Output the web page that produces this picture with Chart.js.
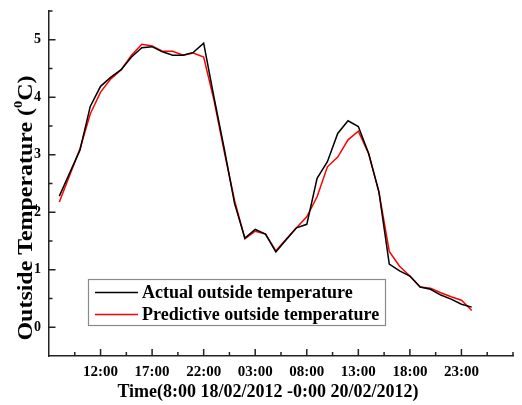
<!DOCTYPE html>
<html><head><meta charset="utf-8">
<script src="https://cdn.jsdelivr.net/npm/chart.js@4/dist/chart.umd.min.js"></script>
<style>html,body{margin:0;padding:0;background:#fff;overflow:hidden;}#wrap{width:522px;height:405px;}</style>
</head><body><div id="wrap"><canvas id="c" width="522" height="405"></canvas></div>
<script>
// hours elapsed since 8:00 18/02/2012
const hours = [0,1,2,3,4,5,6,7,8,9,10,11,12,13,14,15,16,17,18,19,20,21,22,23,24,25,26,27,28,29,30,31,32,33,34,35,36,37,38,39,40];
const actualTemp = [2.28,2.68,3.08,3.84,4.19,4.35,4.48,4.70,4.86,4.88,4.79,4.73,4.73,4.78,4.94,4.00,3.10,2.15,1.55,1.70,1.62,1.31,1.52,1.73,1.79,2.59,2.88,3.37,3.59,3.49,3.02,2.35,1.10,0.98,0.89,0.70,0.66,0.56,0.49,0.40,0.35];
const predictedTemp = [2.18,2.64,3.10,3.71,4.09,4.32,4.48,4.73,4.92,4.89,4.80,4.80,4.73,4.77,4.70,3.95,3.05,2.20,1.54,1.67,1.62,1.33,1.53,1.73,1.92,2.27,2.79,2.96,3.26,3.41,3.02,2.35,1.32,1.06,0.89,0.70,0.68,0.60,0.53,0.47,0.29];
const seriesNames = ['Actual outside temperature','Predictive outside temperature'];
const seriesColors = ['#000000','#ff0000'];
const xMajorTicks = [4,9,14,19,24,29,34,39];
const xTickLabels = ['12:00','17:00','22:00','03:00','08:00','13:00','18:00','23:00'];
const xMinorTicks = [1.5,6.5,11.5,16.5,21.5,26.5,31.5,36.5,41.5,44];
const yMajorTicks = [0,1,2,3,4,5];
const yMinorTicks = [0.5,1.5,2.5,3.5,4.5,5.5];
const xTitle = 'Time(8:00 18/02/2012 -0:00 20/02/2012)';
const yTitleParts = ['Outside Temperature (', '0', 'C)'];

const FONT = '"Liberation Serif", "Times New Roman", serif';

const decorPlugin = {
  id: 'decor',
  afterDraw(chart) {
    const ctx = chart.ctx;
    const xs = chart.scales.x, ys = chart.scales.y;
    const left = chart.chartArea.left, bottom = chart.chartArea.bottom;
    ctx.save();
    ctx.strokeStyle = '#222';
    ctx.lineWidth = 1.5;
    ctx.beginPath();
    xMajorTicks.forEach(v => { const p = xs.getPixelForValue(v); ctx.moveTo(p, bottom); ctx.lineTo(p, bottom - 7); });
    xMinorTicks.forEach(v => { const p = xs.getPixelForValue(v); ctx.moveTo(p, bottom); ctx.lineTo(p, bottom - 4); });
    yMajorTicks.forEach(v => { const p = ys.getPixelForValue(v); ctx.moveTo(left, p); ctx.lineTo(left + 6.5, p); });
    yMinorTicks.forEach(v => { const p = ys.getPixelForValue(v); ctx.moveTo(left, p); ctx.lineTo(left + 3.5, p); });
    ctx.stroke();

    // x title
    ctx.fillStyle = '#000';
    ctx.font = 'bold 18px ' + FONT;
    ctx.textAlign = 'center';
    ctx.textBaseline = 'middle';
    ctx.fillText(xTitle, 268, 392);

    // y title (rotated, with superscript)
    ctx.save();
    ctx.translate(25, 208);
    ctx.rotate(-Math.PI / 2);
    ctx.font = 'bold 20px ' + FONT;
    const w1 = ctx.measureText(yTitleParts[0]).width;
    const w3 = ctx.measureText(yTitleParts[2]).width;
    ctx.font = 'bold 12px ' + FONT;
    const w2 = ctx.measureText(yTitleParts[1]).width;
    const total = w1 + w2 + w3;
    const target = 265;
    ctx.scale(target / total, 1);
    ctx.textAlign = 'left';
    ctx.textBaseline = 'alphabetic';
    let x0 = -total / 2;
    ctx.font = 'bold 20px ' + FONT;
    ctx.fillText(yTitleParts[0], x0, 7);
    ctx.font = 'bold 12px ' + FONT;
    ctx.fillText(yTitleParts[1], x0 + w1, -3);
    ctx.font = 'bold 20px ' + FONT;
    ctx.fillText(yTitleParts[2], x0 + w1 + w2, 7);
    ctx.restore();

    // legend
    ctx.strokeStyle = '#8a8a8a';
    ctx.lineWidth = 1.2;
    ctx.strokeRect(88.5, 279.5, 297, 46);
    ctx.font = 'bold 18px ' + FONT;
    ctx.textAlign = 'left';
    ctx.textBaseline = 'middle';
    const rows = [292.5, 314.5];
    chart.data.datasets.forEach((ds, i) => {
      ctx.strokeStyle = ds.borderColor;
      ctx.lineWidth = 1.5;
      ctx.beginPath();
      ctx.moveTo(95, rows[i]);
      ctx.lineTo(138, rows[i]);
      ctx.stroke();
      ctx.fillStyle = '#000';
      ctx.fillText(ds.label, 142, rows[i] + 1);
    });
    ctx.restore();
  }
};

new Chart(document.getElementById('c'), {
  type: 'line',
  data: {
    datasets: [
      { label: seriesNames[0], data: hours.map((h, i) => ({x: h, y: actualTemp[i]})), borderColor: seriesColors[0], borderWidth: 1.5, pointRadius: 0, tension: 0, fill: false },
      { label: seriesNames[1], data: hours.map((h, i) => ({x: h, y: predictedTemp[i]})), borderColor: seriesColors[1], borderWidth: 1.5, pointRadius: 0, tension: 0, fill: false }
    ]
  },
  options: {
    responsive: false,
    animation: false,
    devicePixelRatio: 1,
    layout: { padding: { top: 11, right: 9, left: 0, bottom: 0 } },
    plugins: { legend: { display: false }, tooltip: { enabled: false } },
    scales: {
      x: {
        type: 'linear', min: -1, max: 44,
        afterBuildTicks: s => { s.ticks = xMajorTicks.map(v => ({ value: v })); },
        afterFit: s => { s.height = 49; s.paddingLeft = 0; s.paddingRight = 0; },
        grid: { display: false, drawTicks: false },
        border: { display: true, color: '#222', width: 1.5 },
        ticks: {
          padding: 7, color: '#000', maxRotation: 0, autoSkip: false,
          font: { family: FONT, size: 15, weight: 'bold' },
          callback: v => { const i = xMajorTicks.indexOf(v); return i >= 0 ? xTickLabels[i] : ''; }
        }
      },
      y: {
        type: 'linear', min: -0.5, max: 5.5,
        afterBuildTicks: s => { s.ticks = yMajorTicks.map(v => ({ value: v })); },
        afterFit: s => { s.width = 49; s.paddingTop = 0; s.paddingBottom = 0; },
        grid: { display: false, drawTicks: false },
        border: { display: true, color: '#222', width: 1.5 },
        ticks: {
          padding: 8, color: '#000',
          font: { family: FONT, size: 14, weight: 'bold' },
          callback: v => String(v)
        }
      }
    }
  },
  plugins: [decorPlugin]
});
</script>
</body></html>
